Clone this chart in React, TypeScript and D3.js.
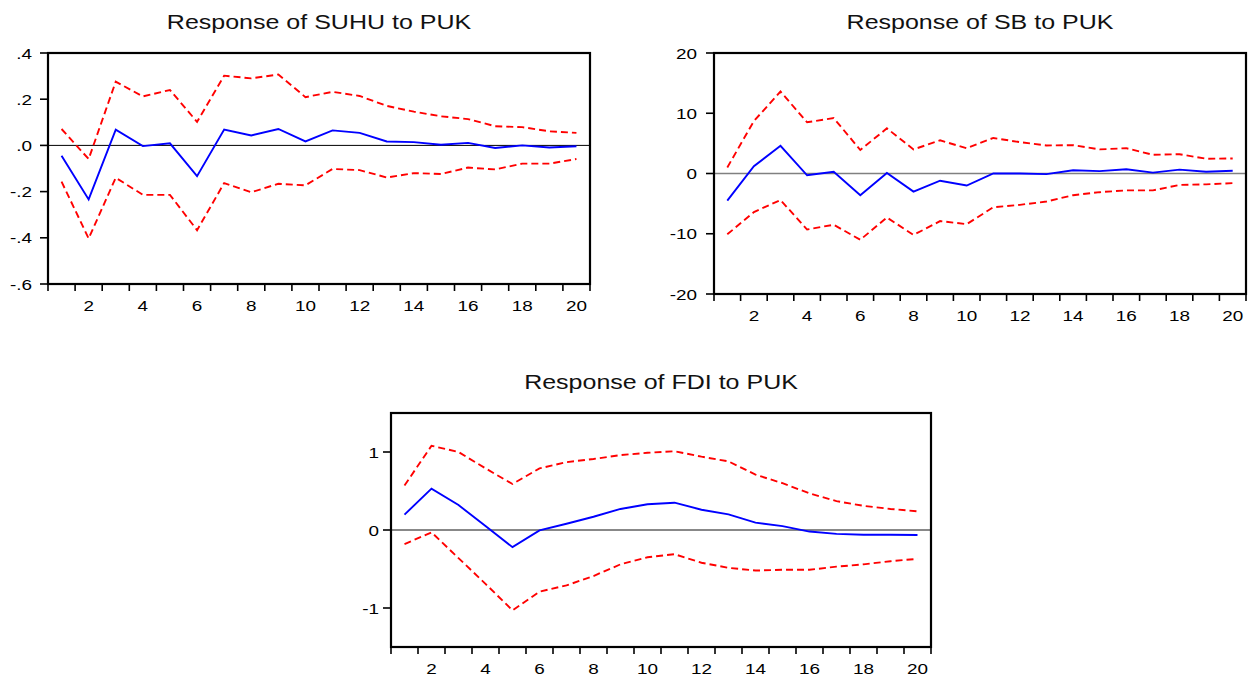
import React from "react";
import * as d3 from "d3";

// periods (horizon)
const periods = [1, 2, 3, 4, 5, 6, 7, 8, 9, 10, 11, 12, 13, 14, 15, 16, 17, 18, 19, 20];
const xTickLabels = ["2", "4", "6", "8", "10", "12", "14", "16", "18", "20"];

// Response of SUHU to PUK
const suhuResponse = [-0.045, -0.234, 0.068, -0.003, 0.009, -0.133, 0.069, 0.043, 0.071, 0.017, 0.065, 0.054, 0.017, 0.014, 0.003, 0.011, -0.011, 0.0, -0.009, -0.004];
const suhuUpper = [0.071, -0.059, 0.276, 0.212, 0.24, 0.102, 0.302, 0.29, 0.307, 0.209, 0.232, 0.214, 0.171, 0.146, 0.126, 0.114, 0.083, 0.079, 0.061, 0.054];
const suhuLower = [-0.157, -0.403, -0.14, -0.214, -0.214, -0.367, -0.163, -0.203, -0.166, -0.173, -0.102, -0.107, -0.139, -0.12, -0.124, -0.096, -0.104, -0.079, -0.079, -0.059];
const suhuTicks = [0.4, 0.2, 0, -0.2, -0.4, -0.6];
const suhuTickLabels = [".4", ".2", ".0", "-.2", "-.4", "-.6"];

// Response of SB to PUK
const sbResponse = [-4.5, 1.2, 4.6, -0.3, 0.3, -3.6, 0.1, -3.0, -1.2, -2.0, 0.0, 0.0, -0.1, 0.55, 0.4, 0.7, 0.15, 0.65, 0.3, 0.45];
const sbUpper = [1.0, 8.7, 13.6, 8.5, 9.2, 3.9, 7.5, 4.0, 5.5, 4.2, 5.9, 5.2, 4.65, 4.7, 4.0, 4.2, 3.1, 3.2, 2.45, 2.5];
const sbLower = [-10.1, -6.4, -4.4, -9.3, -8.5, -11.0, -7.3, -10.2, -7.9, -8.4, -5.6, -5.2, -4.65, -3.6, -3.1, -2.8, -2.8, -1.9, -1.8, -1.6];
const sbTicks = [20, 10, 0, -10, -20];
const sbTickLabels = ["20", "10", "0", "-10", "-20"];

// Response of FDI to PUK
const fdiResponse = [0.197, 0.53, 0.32, 0.05, -0.22, -0.005, 0.08, 0.17, 0.27, 0.33, 0.35, 0.26, 0.2, 0.095, 0.05, -0.02, -0.05, -0.06, -0.06, -0.065];
const fdiUpper = [0.57, 1.08, 1.0, 0.79, 0.59, 0.79, 0.87, 0.91, 0.96, 0.99, 1.01, 0.94, 0.88, 0.71, 0.6, 0.47, 0.37, 0.31, 0.27, 0.24];
const fdiLower = [-0.18, -0.03, -0.36, -0.69, -1.03, -0.79, -0.71, -0.59, -0.44, -0.35, -0.31, -0.42, -0.485, -0.52, -0.51, -0.51, -0.47, -0.44, -0.4, -0.37];
const fdiTicks = [1, 0, -1];
const fdiTickLabels = ["1", "0", "-1"];

const FONT = "'Liberation Sans', Arial, sans-serif";
const TEXT_STRETCH = 1.22;

type PanelProps = {
  title: string;
  response: number[];
  upper: number[];
  lower: number[];
  yDomain: [number, number];
  yTicks: number[];
  yTickLabels: string[];
  left: number;
  right: number;
  top: number;
  bottom: number;
  zeroColor: string;
  zeroWidth: number;
  labelGap: number;
};

function ResponsePanel(p: PanelProps) {
  const x = d3.scaleBand<number>().domain(periods).range([p.left, p.right]).padding(0);
  const y = d3.scaleLinear().domain(p.yDomain).range([p.bottom, p.top]);
  const cx = (d: number) => (x(d) as number) + x.bandwidth() / 2;

  const line = d3
    .line<number>()
    .x((_, i) => cx(periods[i]))
    .y((d) => y(d));

  // tick marks sit on band edges
  const edges = periods.map((d) => x(d) as number).concat([p.right]);
  const midX = (p.left + p.right) / 2;

  return (
    <g>
      <text
        transform={`translate(${midX},${p.top - 24}) scale(${TEXT_STRETCH},1)`}
        textAnchor="middle"
        fontSize={20.5}
        fontFamily={FONT}
        fill="#111"
      >
        {p.title}
      </text>

      {/* zero line */}
      <line x1={p.left} x2={p.right} y1={y(0)} y2={y(0)} stroke={p.zeroColor} strokeWidth={p.zeroWidth} />

      <path d={line(p.upper) || ""} fill="none" stroke="#ff0000" strokeWidth={1.9} strokeDasharray="7,4" />
      <path d={line(p.lower) || ""} fill="none" stroke="#ff0000" strokeWidth={1.9} strokeDasharray="7,4" />
      <path d={line(p.response) || ""} fill="none" stroke="#0000ff" strokeWidth={1.9} />

      {/* frame */}
      <rect x={p.left} y={p.top} width={p.right - p.left} height={p.bottom - p.top} fill="none" stroke="#000" strokeWidth={2.2} />

      {/* y axis */}
      {p.yTicks.map((t, i) => (
        <g key={"y" + i}>
          <line x1={p.left - 8} x2={p.left} y1={y(t)} y2={y(t)} stroke="#000" strokeWidth={1.6} />
          <text
            transform={`translate(${p.left - p.labelGap},${y(t) + 5.5}) scale(${TEXT_STRETCH},1)`}
            textAnchor="end"
            fontSize={15.5}
            fontFamily={FONT}
            fill="#000"
          >
            {p.yTickLabels[i]}
          </text>
        </g>
      ))}

      {/* x axis */}
      {edges.map((e, i) => (
        <line key={"xt" + i} x1={e} x2={e} y1={p.bottom} y2={p.bottom + 7} stroke="#000" strokeWidth={1.6} />
      ))}
      {xTickLabels.map((lab) => (
        <text
          key={"xl" + lab}
          transform={`translate(${cx(+lab)},${p.bottom + 27}) scale(${TEXT_STRETCH},1)`}
          textAnchor="middle"
          fontSize={15.5}
          fontFamily={FONT}
          fill="#000"
        >
          {lab}
        </text>
      ))}
    </g>
  );
}

export default function App() {
  return (
    <svg
      width={1248}
      height={675}
      style={{ position: "absolute", left: 0, top: 0, background: "#fff" }}
    >
      <ResponsePanel
        title="Response of SUHU to PUK"
        response={suhuResponse}
        upper={suhuUpper}
        lower={suhuLower}
        yDomain={[-0.6, 0.4]}
        yTicks={suhuTicks}
        yTickLabels={suhuTickLabels}
        left={48}
        right={590}
        top={53}
        bottom={284}
        zeroColor="#000"
        zeroWidth={1}
        labelGap={16}
      />
      <ResponsePanel
        title="Response of SB to PUK"
        response={sbResponse}
        upper={sbUpper}
        lower={sbLower}
        yDomain={[-20, 20]}
        yTicks={sbTicks}
        yTickLabels={sbTickLabels}
        left={714}
        right={1246}
        top={53}
        bottom={294}
        zeroColor="#808080"
        zeroWidth={1.5}
        labelGap={17}
      />
      <ResponsePanel
        title="Response of FDI to PUK"
        response={fdiResponse}
        upper={fdiUpper}
        lower={fdiLower}
        yDomain={[-1.5, 1.5]}
        yTicks={fdiTicks}
        yTickLabels={fdiTickLabels}
        left={391}
        right={931}
        top={413}
        bottom={647}
        zeroColor="#888"
        zeroWidth={2}
        labelGap={12}
      />
    </svg>
  );
}
